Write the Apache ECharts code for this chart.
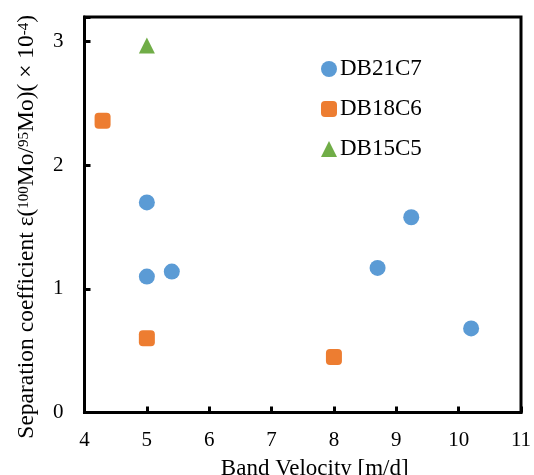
<!DOCTYPE html>
<html><head><meta charset="utf-8">
<script src="https://cdn.jsdelivr.net/npm/echarts@6/dist/echarts.min.js"></script>
<style>html,body{margin:0;padding:0;background:#fff}#c{width:534px;height:475px}</style>
</head><body><div id="c"></div>
<script>
const seriesNames = ['DB21C7', 'DB18C6', 'DB15C5'];
const db21c7 = [[5.0, 1.70], [5.0, 1.10], [5.4, 1.14], [8.7, 1.17], [9.24, 1.58], [10.2, 0.68]];
const db18c6 = [[4.29, 2.36], [5.0, 0.60], [8.0, 0.45]];
const db15c5 = [[5.0, 2.97]];
const xTicks = [4, 5, 6, 7, 8, 9, 10, 11];
const yTicks = [0, 1, 2, 3];
const colors = ['#5B9BD5', '#ED7D31', '#70AD47'];
const symbols = ['circle', 'roundRect', 'triangle'];

const font = 'Liberation Serif';
const chart = echarts.init(document.getElementById('c'), null, {renderer: 'canvas'});
const axisCommon = {
  axisLine: {show: true, lineStyle: {color: '#000', width: 3}},
  axisTick: {show: true, inside: true, length: 6, lineStyle: {color: '#000', width: 3}},
  splitLine: {show: false},
  axisLabel: {color: '#000', fontFamily: font, fontSize: 21},
  nameTextStyle: {color: '#000', fontFamily: font, fontSize: 23}
};
chart.setOption({
  animation: false,
  grid: {left: 84.5, right: 13, top: 17, bottom: 62.5, show: true, borderColor: '#000', borderWidth: 3,
         containLabel: false, outerBoundsMode: 'none'},
  xAxis: Object.assign({}, axisCommon, {
    type: 'value', min: xTicks[0], max: xTicks[xTicks.length - 1], interval: 1,
    name: 'Band Velocity [m/d]', nameLocation: 'middle', nameGap: 45,
    nameTextStyle: {color: '#000', fontFamily: font, fontSize: 23, padding: [0, 0, 0, 24]},
    axisLabel: Object.assign({}, axisCommon.axisLabel, {margin: 17})
  }),
  yAxis: Object.assign({}, axisCommon, {
    type: 'value', min: yTicks[0], max: 3.2, interval: 1,
    name: '{m|Separation coefficient ε(}{s|100}{m|Mo/}{s|95}{m|Mo)( × 10}{s|-4}{m|)}',
    nameLocation: 'middle', nameGap: 45, nameRotate: 90,
    nameTextStyle: {
      color: '#000', fontFamily: font, fontSize: 23.5, padding: [0, 24, 0, 0],
      rich: {
        m: {fontFamily: font, fontSize: 23.5, color: '#000', lineHeight: 26},
        s: {fontFamily: font, fontSize: 15, color: '#000', lineHeight: 15, verticalAlign: 'top', padding: [3, 0, 0, 0]}
      }
    },
    axisLabel: Object.assign({}, axisCommon.axisLabel, {margin: 21,
      formatter: v => (yTicks.indexOf(v) >= 0 ? String(v) : '')})
  }),
  legend: {
    orient: 'vertical', left: 321, top: 57.5, padding: 0, itemWidth: 16, itemHeight: 16, itemGap: 17,
    textStyle: {fontFamily: font, fontSize: 23, color: '#000', padding: [0, 0, 0, -2]},
    data: seriesNames.map((n, i) => ({name: n, icon: symbols[i]}))
  },
  series: [db21c7, db18c6, db15c5].map((d, i) => ({
    name: seriesNames[i], type: 'scatter', data: d, symbol: symbols[i], symbolSize: 16,
    itemStyle: {color: colors[i], opacity: 1}
  }))
});
</script></body></html>
